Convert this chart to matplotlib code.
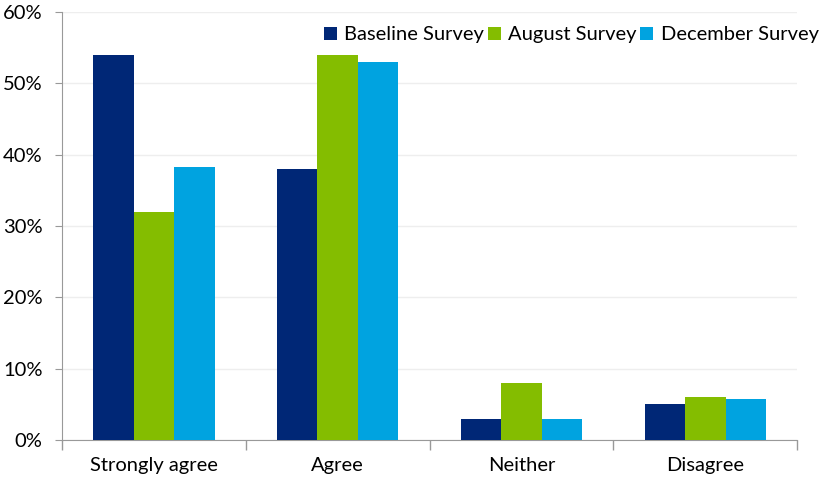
import numpy as np
import matplotlib
matplotlib.use("Agg")
import matplotlib.pyplot as plt
from matplotlib.ticker import FuncFormatter, FixedLocator

categories = ["Strongly agree", "Agree", "Neither", "Disagree"]
series_names = ["Baseline Survey", "August Survey", "December Survey"]
baseline = [54, 38, 3, 5]
august = [32, 54, 8, 6]
december = [38.2, 53, 3, 5.8]
colors = ["#002776", "#84BD00", "#00A3E0"]

plt.rcParams["font.family"] = ["Lato", "DejaVu Sans"]

fig = plt.figure(figsize=(8.21, 4.79), dpi=100)
ax = fig.add_axes([0.0755, 0.0814, 0.8955, 0.8936])

x = np.arange(len(categories))
width = 0.22
for i, (vals, name, c) in enumerate(zip([baseline, august, december], series_names, colors)):
    ax.bar(x + (i - 1) * width, vals, width, color=c, label=name, zorder=3)

ax.set_xlim(-0.5, len(categories) - 0.5)
ax.set_ylim(0, 60)
ax.set_yticks(np.arange(0, 61, 10))
ax.yaxis.set_major_formatter(FuncFormatter(lambda v, p: f"{int(v)}%"))
ax.grid(axis="y", color="#eeeeee", linewidth=1, zorder=0)

ax.set_xticks(x)
ax.set_xticklabels(categories)
ax.xaxis.set_minor_locator(FixedLocator(np.arange(-0.5, len(categories), 1)))
ax.tick_params(axis="x", which="major", length=0, pad=12, labelsize=14.5, colors="#000000")
ax.tick_params(axis="x", which="minor", length=7, color="#999999", width=1)
ax.tick_params(axis="y", length=5, color="#999999", labelsize=14.5, pad=9)

for s in ["top", "right"]:
    ax.spines[s].set_visible(False)
for s in ["left", "bottom"]:
    ax.spines[s].set_color("#999999")

ax.legend(loc="upper right", bbox_to_anchor=(1.04, 0.985), ncol=3, frameon=False,
          fontsize=14.5, handlelength=0.65, handleheight=0.65, handletextpad=0.35,
          columnspacing=0.2, borderaxespad=0)

fig.savefig("out.png", dpi=100)
